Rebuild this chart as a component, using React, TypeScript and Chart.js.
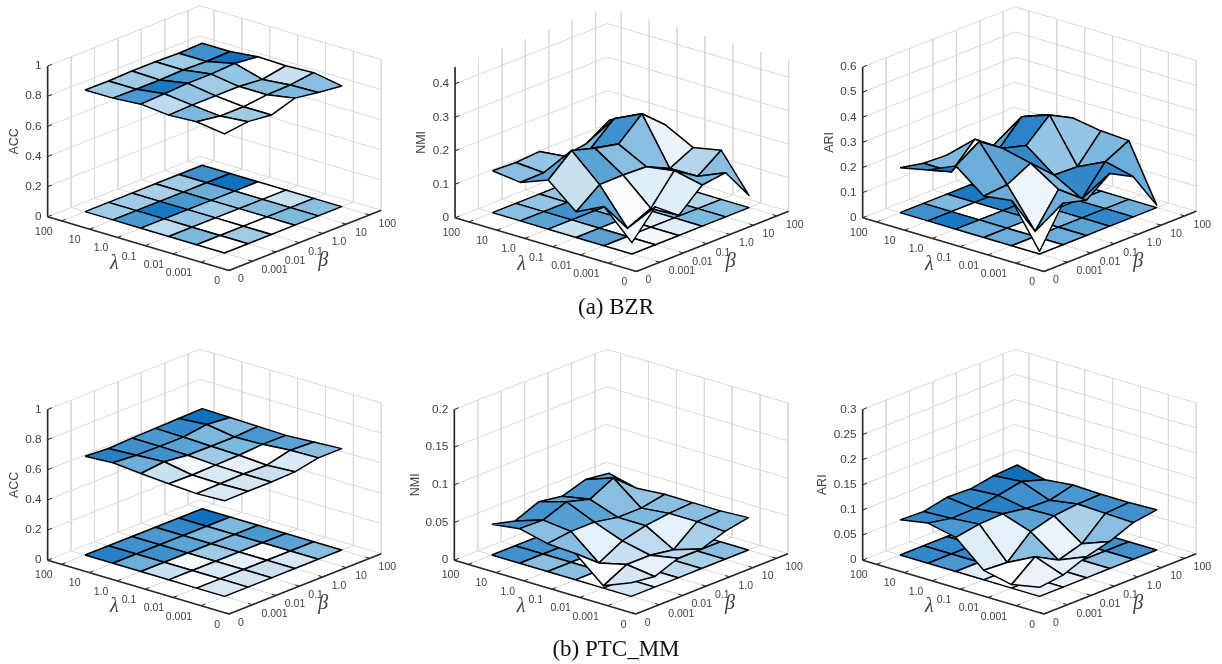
import React, { useEffect, useRef } from "react";
import { Chart, registerables } from "chart.js";

Chart.register(...registerables);

const lambdaLabels = ["100", "10", "1.0", "0.1", "0.01", "0.001", "0"];
const betaLabels = ["0", "0.001", "0.01", "0.1", "1.0", "10", "100"];

const accBzr = [
  [0.807, 0.805, 0.81, 0.81, 0.805, 0.81],
  [0.808, 0.805, 0.805, 0.81, 0.805, 0.81],
  [0.823, 0.83, 0.838, 0.838, 0.847, 0.83],
  [0.805, 0.81, 0.81, 0.81, 0.796, 0.825],
  [0.816, 0.792, 0.792, 0.81, 0.814, 0.834],
  [0.79, 0.81, 0.792, 0.843, 0.819, 0.801],
];
const accBzrShade = [
  [0.45, 0.45, 0.4, 0.45, 0.8],
  [0.75, 0.95, 0.75, 0.65, 1],
  [0.3, 0.5, 0.45, 0.5, 0],
  [0.6, 0, 0, 0.55, 0.25],
  [0, 0.45, 0, 0.6, 0.55],
];
const nmiBzr = [
  [0.125, 0.122, 0.127, 0.083, 0.095, 0.138],
  [0.115, 0.116, 0.136, 0.133, 0.194, 0.179],
  [0.147, 0.207, 0.186, 0.171, 0.234, 0.173],
  [0.077, 0.13, 0.131, 0.128, 0.095, 0.13],
  [0.117, 0.024, 0.056, 0.141, 0.097, 0.147],
  [0.034, 0.113, 0.06, 0.123, 0.132, 0.036],
];
const nmiBzrShade = [
  [0.55, 0.5, 0.5, 0.6, 0.55],
  [0.7, 0.8, 0.8, 0.8, 0.55],
  [0.25, 0.7, 0.55, 0.55, 0.1],
  [0.7, 0.03, 0.15, 0.6, 0.35],
  [0.05, 0.05, 0.15, 0.6, 0.55],
];
const ariBzr = [
  [0.179, 0.16, 0.155, 0.1, 0.122, 0.133],
  [0.203, 0.159, 0.251, 0.171, 0.267, 0.238],
  [0.252, 0.312, 0.248, 0.222, 0.307, 0.258],
  [0.165, 0.173, 0.222, 0.138, 0.134, 0.24],
  [0.18, 0.02, 0.15, 0.076, 0.187, 0.234],
  [0.01, 0.165, 0.14, 0.21, 0.16, 0.01],
];
const ariBzrShade = [
  [0.8, 0.6, 0.95, 0.7, 0.7],
  [0.95, 0, 0.9, 0.88, 0.7],
  [0.65, 0.7, 0.85, 0.5, 0.5],
  [0.65, 0.08, 0.6, 0.85, 0.6],
  [0, 0.65, 0.7, 0.85, 0.65],
];
const accPtc = [
  [0.656, 0.645, 0.653, 0.656, 0.66, 0.664],
  [0.667, 0.656, 0.653, 0.653, 0.675, 0.66],
  [0.651, 0.667, 0.649, 0.647, 0.647, 0.656],
  [0.638, 0.634, 0.638, 0.642, 0.653, 0.651],
  [0.627, 0.631, 0.634, 0.631, 0.669, 0.662],
  [0.634, 0.636, 0.636, 0.642, 0.673, 0.673],
];
const accPtcShade = [
  [0.9, 0.8, 0.75, 0.85, 1],
  [0.65, 0.8, 0.7, 0.6, 0.6],
  [0.25, 0.05, 0.45, 0.6, 0.75],
  [0, 0.18, 0.12, 0, 0.7],
  [0.18, 0.2, 0.25, 0.18, 0.55],
];
const nmiPtc = [
  [0.041, 0.033, 0.046, 0.041, 0.051, 0.047],
  [0.046, 0.045, 0.057, 0.048, 0.064, 0.038],
  [0.037, 0.041, 0.041, 0.035, 0.035, 0.041],
  [0.035, 0.01, 0.027, 0.035, 0.039, 0.041],
  [0.003, 0.019, 0.019, 0.014, 0.039, 0.041],
  [0.018, 0.014, 0.026, 0.026, 0.037, 0.043],
];
const nmiPtcShade = [
  [0.8, 0.78, 0.7, 0.75, 0.7],
  [0.55, 0.72, 0.7, 0.55, 0.5],
  [0.55, 0.12, 0.5, 0.6, 0.55],
  [0, 0.25, 0.3, 0.12, 0.55],
  [0.2, 0.12, 0.3, 0.4, 0.55],
];
const ariPtc = [
  [0.07, 0.068, 0.078, 0.076, 0.084, 0.087],
  [0.08, 0.071, 0.072, 0.08, 0.089, 0.074],
  [0.068, 0.076, 0.078, 0.07, 0.068, 0.08],
  [0.019, 0.016, 0.059, 0.072, 0.077, 0.078],
  [0.007, 0.044, 0.019, 0.033, 0.075, 0.078],
  [0.018, 0.024, 0.042, 0.054, 0.073, 0.08],
];
const ariPtcShade = [
  [0.85, 0.85, 0.85, 0.9, 1],
  [0.75, 0.85, 0.9, 0.8, 0.75],
  [0.15, 0.12, 0.7, 0.8, 0.75],
  [0, 0.55, 0.1, 0.4, 0.8],
  [0.1, 0.12, 0.2, 0.55, 0.8],
];

const accTicks = [0, 0.2, 0.4, 0.6, 0.8, 1];
const nmiBzrTicks = [0, 0.1, 0.2, 0.3, 0.4];
const ariBzrTicks = [0, 0.1, 0.2, 0.3, 0.4, 0.5, 0.6];
const nmiPtcTicks = [0, 0.05, 0.1, 0.15, 0.2];
const ariPtcTicks = [0, 0.05, 0.1, 0.15, 0.2, 0.25, 0.3];

const colorStops: [number, number, number, number][] = [
  [0, 255, 255, 255],
  [0.3, 190, 218, 238],
  [0.45, 160, 203, 231],
  [0.6, 125, 184, 222],
  [0.75, 75, 152, 208],
  [1, 15, 112, 190],
];

const PW = 408;
const PH = 300;
const U_STEP = [27.9, 8.27];
const V_STEP = [23.43, -9.27];
const Z_PIXELS = 150.7;

type Panel = {
  left: number; top: number; originX: number; originY: number;
  zMax: number; zName: string; zTicks: number[]; z: number[][]; shade: number[][]; zLabelGap: number;
};

const panels: Panel[] = [
  { left: 0, top: 0, originX: 61.6, originY: 220.9, zMax: 1, zName: "ACC", zTicks: accTicks, z: accBzr, shade: accBzrShade, zLabelGap: 33 },
  { left: 407, top: 0, originX: 62, originY: 221.9, zMax: 0.45, zName: "NMI", zTicks: nmiBzrTicks, z: nmiBzr, shade: nmiBzrShade, zLabelGap: 34 },
  { left: 815, top: 0, originX: 61.6, originY: 221.9, zMax: 0.6, zName: "ARI", zTicks: ariBzrTicks, z: ariBzr, shade: ariBzrShade, zLabelGap: 33 },
  { left: 0, top: 340, originX: 61.6, originY: 224.3, zMax: 1, zName: "ACC", zTicks: accTicks, z: accPtc, shade: accPtcShade, zLabelGap: 33 },
  { left: 407, top: 340, originX: 61.3, originY: 224.3, zMax: 0.2, zName: "NMI", zTicks: nmiPtcTicks, z: nmiPtc, shade: nmiPtcShade, zLabelGap: 39 },
  { left: 815, top: 340, originX: 61.6, originY: 224.3, zMax: 0.3, zName: "ARI", zTicks: ariPtcTicks, z: ariPtc, shade: ariPtcShade, zLabelGap: 40 },
];

const U_MIN = -0.5, U_MAX = 6, V_MIN = 0, V_MAX = 6.5;

function shadeColor(level: number) {
  for (let k = 1; k < colorStops.length; k++) {
    const a = colorStops[k - 1], b = colorStops[k];
    if (level <= b[0]) {
      const t = (level - a[0]) / (b[0] - a[0]);
      const mix = (n: number) => Math.round(a[n] + (b[n] - a[n]) * t);
      return `rgb(${mix(1)},${mix(2)},${mix(3)})`;
    }
  }
  return "rgb(15,112,190)";
}

function tickText(v: number) {
  return String(Math.round(v * 100) / 100);
}

function PanelChart({ panel }: { panel: Panel }) {
  const ref = useRef<HTMLCanvasElement | null>(null);
  useEffect(() => {
    const p = panel;
    const proj = (u: number, v: number, z: number) => ({
      x: p.originX + U_STEP[0] * u + V_STEP[0] * v,
      y: p.originY + U_STEP[1] * u + V_STEP[1] * v - (z / p.zMax) * Z_PIXELS,
    });
    const line = (pts: { x: number; y: number }[], color: string, width: number) => ({
      data: pts, showLine: true, borderColor: color, borderWidth: width,
      pointRadius: 0, fill: false, tension: 0, borderCapStyle: "butt" as const,
    });
    const cell = (pts: { x: number; y: number }[], level: number) => ({
      data: pts, showLine: true, borderColor: "#000000", borderWidth: 1.5,
      backgroundColor: shadeColor(level), pointRadius: 0, fill: "shape", tension: 0,
      borderJoinStyle: "round" as const,
    });
    const back: any[] = [];
    const GRID = "#d9d9d9";
    const uTicks = lambdaLabels.map((_, i) => i);
    const vTicks = betaLabels.map((_, i) => i);
    for (const t of p.zTicks) {
      if (t === 0) continue;
      back.push(line([proj(U_MIN, V_MIN, t), proj(U_MIN, V_MAX, t), proj(U_MAX, V_MAX, t)], GRID, 1));
    }
    back.push(line([proj(U_MIN, V_MIN, 0), proj(U_MIN, V_MAX, 0), proj(U_MAX, V_MAX, 0)], GRID, 1));
    for (const v of vTicks) {
      back.push(line([proj(U_MIN, v, p.zMax), proj(U_MIN, v, 0), proj(U_MAX, v, 0)], GRID, 1));
    }
    for (const u of uTicks) {
      back.push(line([proj(u, V_MAX, p.zMax), proj(u, V_MAX, 0), proj(u, V_MIN, 0)], GRID, 1));
    }
    const n = p.shade.length;
    const order: [number, number][] = [];
    for (let i = 0; i < n; i++) for (let j = 0; j < n; j++) order.push([i, j]);
    order.sort((a, b) => a[0] - a[1] - (b[0] - b[1]));
    for (const [i, j] of order) {
      const q = [[i, j], [i + 1, j], [i + 1, j + 1], [i, j + 1], [i, j]];
      back.push(cell(q.map(([a, b]) => proj(a, b + 1, 0)), p.shade[i][j]));
    }
    for (const [i, j] of order) {
      const q = [[i, j], [i + 1, j], [i + 1, j + 1], [i, j + 1], [i, j]];
      back.push(cell(q.map(([a, b]) => proj(a, b + 1, p.z[a][b])), p.shade[i][j]));
    }
    const RULER = "#262626";
    back.push(line([proj(U_MIN, V_MIN, 0), proj(U_MIN, V_MIN, p.zMax)], RULER, 1.6));
    back.push(line([proj(U_MIN, V_MIN, 0), proj(U_MAX, V_MIN, 0)], RULER, 1.6));
    back.push(line([proj(U_MAX, V_MIN, 0), proj(U_MAX, V_MAX, 0)], RULER, 1.6));
    for (const t of p.zTicks) back.push(line([proj(U_MIN, V_MIN, t), proj(U_MIN, 0.18, t)], RULER, 1));
    for (const u of uTicks) back.push(line([proj(u, V_MIN, 0), proj(u, 0.17, 0)], RULER, 1));
    for (const v of vTicks) back.push(line([proj(U_MAX, v, 0), proj(U_MAX - 0.15, v, 0)], RULER, 1));

    const labelPlugin = {
      id: "axisText",
      afterDraw(chart: any) {
        const ctx = chart.ctx;
        const sx = chart.scales.x, sy = chart.scales.y;
        const put = (s: string, pt: { x: number; y: number }, dx: number, dy: number, align: CanvasTextAlign, font: string, rot = 0) => {
          ctx.save();
          ctx.translate(sx.getPixelForValue(pt.x) + dx, sy.getPixelForValue(pt.y) + dy);
          if (rot) ctx.rotate(rot);
          ctx.font = font;
          ctx.fillStyle = "#404040";
          ctx.textAlign = align;
          ctx.textBaseline = "middle";
          ctx.fillText(s, 0, 0);
          ctx.restore();
        };
        const tf = '10.5px "Liberation Sans"';
        const zf = '11.8px "Liberation Sans"';
        p.zTicks.forEach((t) => put(tickText(t), proj(U_MIN, V_MIN, t), -6, 0, "right", zf));
        lambdaLabels.forEach((s, i) => put(s, proj(i, V_MIN, 0), -9, 11, "right", tf));
        betaLabels.forEach((s, i) => put(s, proj(U_MAX, i, 0), 9, 9, "left", tf));
        put("λ", proj(3, V_MIN, 0), -31, 18, "center", 'italic 20px "Liberation Serif"');
        put("β", proj(U_MAX, 3, 0), 24, 18, "center", 'italic 20px "Liberation Serif"');
        put(p.zName, proj(U_MIN, V_MIN, p.zMax / 2), -p.zLabelGap, 0, "center", '12.5px "Liberation Sans"', -Math.PI / 2);
      },
    };

    const chart = new Chart(ref.current as HTMLCanvasElement, {
      type: "scatter",
      data: { datasets: back.slice().reverse() },
      options: {
        animation: false,
        responsive: false,
        maintainAspectRatio: false,
        layout: { padding: 0 },
        events: [],
        plugins: { legend: { display: false }, tooltip: { enabled: false }, title: { display: false } },
        scales: {
          x: { type: "linear", display: false, min: 0, max: PW },
          y: { type: "linear", display: false, min: 0, max: PH, reverse: true },
        },
      },
      plugins: [labelPlugin],
    } as any);
    return () => chart.destroy();
  }, [panel]);
  return (
    <canvas
      ref={ref}
      width={PW}
      height={PH}
      style={{ position: "absolute", left: panel.left, top: panel.top, width: PW, height: PH, display: "block" }}
    />
  );
}

const captionStyle: React.CSSProperties = {
  position: "absolute", left: 0, width: 1232, textAlign: "center",
  font: '23px "Liberation Serif"', color: "#111", lineHeight: "26px",
};

export default function App() {
  useEffect(() => {
    document.body.style.margin = "0";
    document.body.style.background = "#fff";
  }, []);
  return (
    <div style={{ position: "relative", width: 1222, height: 664, overflow: "hidden", background: "#fff" }}>
      {panels.map((p, i) => <PanelChart key={i} panel={p} />)}
      <div style={{ ...captionStyle, top: 294 }}>(a) BZR</div>
      <div style={{ ...captionStyle, top: 636 }}>(b) PTC_MM</div>
    </div>
  );
}
